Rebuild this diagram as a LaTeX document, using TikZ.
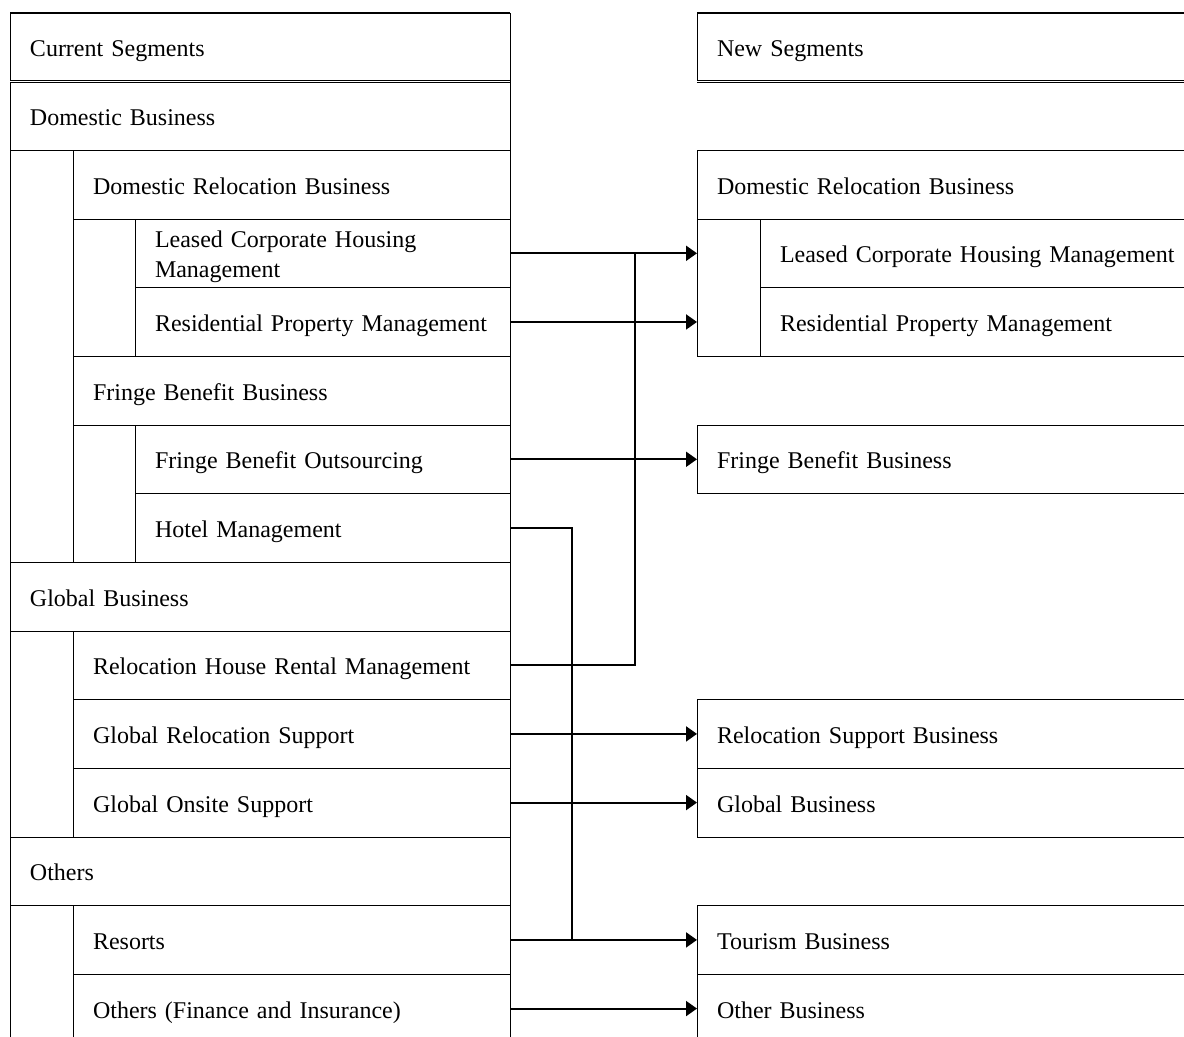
\documentclass[tikz,border=0pt]{standalone}
\usepackage{fontspec}
\setmainfont{Liberation Serif}
\usetikzlibrary{positioning, arrows.meta, calc}

\tikzset{
    cell/.style={draw, rectangle, inner xsep=10pt, inner ysep=2pt, outer sep=0pt,
        minimum height=34.33pt, align=left, font=\fontsize{12}{15}\selectfont},
    oneline/.style={text height=10.5pt, text depth=1pt},
    twoline/.style={text height=12pt, text depth=17.5pt},
    lvl0/.style={cell, oneline, text width=230pt},
    lvl1/.style={cell, oneline, text width=198.5pt},
    lvl2/.style={cell, oneline, text width=167.5pt},
    rlvl0/.style={cell, oneline, text width=260pt},
    rlvl1/.style={cell, oneline, text width=240pt},
    stack/.style={below=0pt of #1.south east, anchor=north east},
    rstack/.style={below=0pt of #1.south west, anchor=north west},
    link/.style={line width=1pt, -{Triangle[length=5.5pt, width=7.5pt]}},
    joint/.style={line width=1pt},
}

\begin{document}
\begin{tikzpicture}[x=0.5pt, y=-0.5pt]
        \useasboundingbox (0,0) rectangle (1184,1037);
        \clip (0,0) rectangle (1184,1037);

        % Draw the current segments
        \node[lvl0, anchor=north west] (cur) at (10,13) {Current Segments};
        \node[lvl0, stack=cur] (dom) {Domestic Business};
        \node[lvl1, stack=dom] (drb) {Domestic Relocation Business};
        \node[cell, twoline, text width=167.5pt, stack=drb] (lch) {Leased Corporate Housing\\Management};
        \node[lvl2, stack=lch] (rpm) {Residential Property Management};
        \node[lvl1, stack=rpm] (fbb) {Fringe Benefit Business};
        \node[lvl2, stack=fbb] (fbo) {Fringe Benefit Outsourcing};
        \node[lvl2, stack=fbo] (hot) {Hotel Management};
        \node[lvl0, stack=hot] (glb) {Global Business};
        \node[lvl1, stack=glb] (rhr) {Relocation House Rental Management};
        \node[lvl1, stack=rhr] (grs) {Global Relocation Support};
        \node[lvl1, stack=grs] (gos) {Global Onsite Support};
        \node[lvl0, stack=gos] (oth) {Others};
        \node[lvl1, stack=oth] (res) {Resorts};
        \node[lvl1, stack=res] (ofi) {Others (Finance and Insurance)};

        % Group outlines
        \draw (dom.north west) rectangle (hot.south east);
        \draw (drb.north west) rectangle (rpm.south east);
        \draw (fbb.north west) rectangle (hot.south east);
        \draw (glb.north west) rectangle (gos.south east);
        \draw (oth.north west) rectangle (ofi.south east);

        % Draw the new segments
        \node[rlvl0, anchor=north west] (new) at (697,13) {New Segments};
        \node[rlvl0, anchor=north west] (rdr) at (new.west |- drb.north) {Domestic Relocation Business};
        \node[rlvl1, anchor=north west] (rlc) at ($(rdr.south west)+(63,0)$) {Leased Corporate Housing Management};
        \node[rlvl1, rstack=rlc] (rrp) {Residential Property Management};
        \node[rlvl0, anchor=north west] (rfb) at (new.west |- fbo.north) {Fringe Benefit Business};
        \node[rlvl0, anchor=north west] (rrs) at (new.west |- grs.north) {Relocation Support Business};
        \node[rlvl0, rstack=rrs] (rgb) {Global Business};
        \node[rlvl0, anchor=north west] (rtb) at (new.west |- res.north) {Tourism Business};
        \node[rlvl0, rstack=rtb] (rob) {Other Business};

        \draw (rdr.north west) rectangle (rrp.south east);

        % Header rules
        \draw[line width=0.8pt] (cur.north west) -- (cur.north east);
        \draw[line width=0.8pt] (new.north west) -- (new.north east);
        \draw[double, double distance=0.6pt] (cur.south west) -- (cur.south east);
        \draw[double, double distance=0.6pt] (new.south west) -- (new.south east);

        % Connect the segments
        \coordinate (j1) at ($(lch.east)!2/3!(lch.east -| rdr.west)$);
        \coordinate (j2) at ($(res.east)!1/3!(rtb.west)$);

        \draw[link] (lch.east) -- (lch.east -| rdr.west);
        \draw[link] (rpm.east) -- (rpm.east -| rdr.west);
        \draw[link] (fbo.east) -- (rfb.west);
        \draw[link] (grs.east) -- (rrs.west);
        \draw[link] (gos.east) -- (rgb.west);
        \draw[link] (res.east) -- (rtb.west);
        \draw[link] (ofi.east) -- (rob.west);

        \draw[joint] (rhr.east) -| (j1);
        \draw[joint] (hot.east) -| (j2);
\end{tikzpicture}
\end{document}
